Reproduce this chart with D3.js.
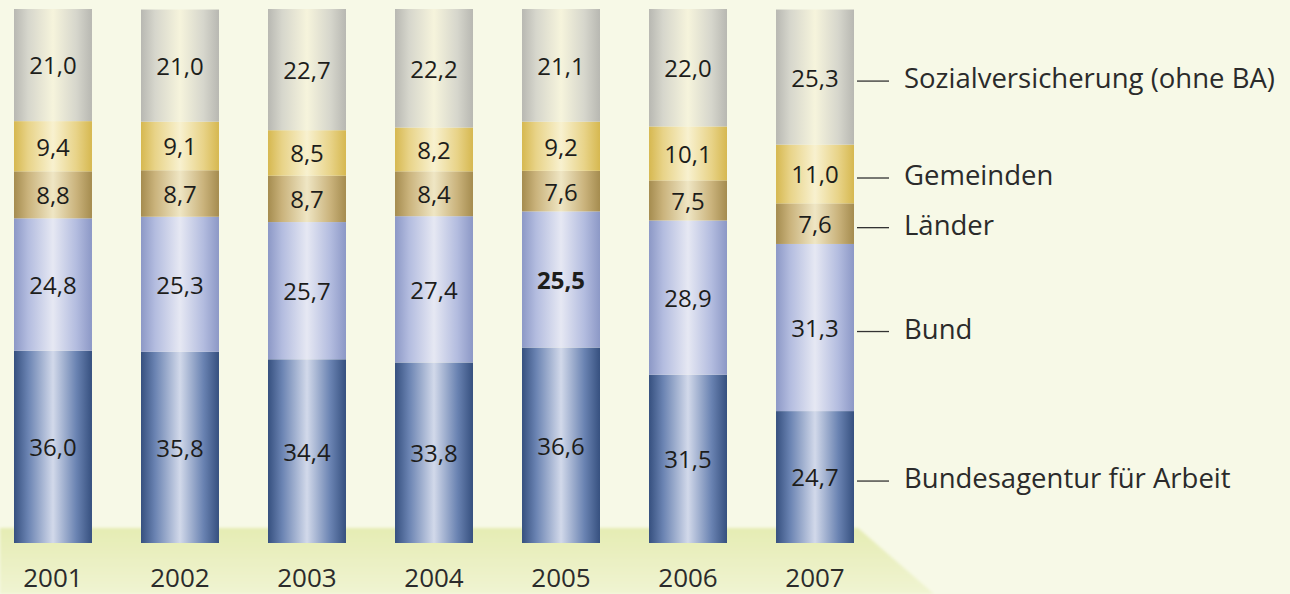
<!DOCTYPE html>
<html>
<head>
<meta charset="utf-8">
<script src="https://cdn.jsdelivr.net/npm/d3@7"></script>
<style>
  html, body { margin: 0; padding: 0; background: #f7f9e7; }
  svg { display: block; }
</style>
</head>
<body>
<div id="chart"></div>
<script>
(function () {
  'use strict';

  // data (shares in %, bottom to top in the stack)
  var years = ['2001', '2002', '2003', '2004', '2005', '2006', '2007'];
  var seriesNames = ['Bundesagentur für Arbeit', 'Bund', 'Länder', 'Gemeinden', 'Sozialversicherung (ohne BA)'];
  var ba = [36.0, 35.8, 34.4, 33.8, 36.6, 31.5, 24.7];
  var bund = [24.8, 25.3, 25.7, 27.4, 25.5, 28.9, 31.3];
  var laender = [8.8, 8.7, 8.7, 8.4, 7.6, 7.5, 7.6];
  var gemeinden = [9.4, 9.1, 8.5, 8.2, 9.2, 10.1, 11.0];
  var sozial = [21.0, 21.0, 22.7, 22.2, 21.1, 22.0, 25.3];
  var boldLabels = [{ year: '2005', series: 'Bund' }];

  var width = 1290, height = 594;
  var keys = ['ba', 'bund', 'laender', 'gemeinden', 'sozial'];
  var rows = years.map(function (y, i) {
    return { year: y, ba: ba[i], bund: bund[i], laender: laender[i], gemeinden: gemeinden[i], sozial: sozial[i] };
  });
  var stack = d3.stack().keys(keys)(rows);

  // cylinder shading: [edge, mid, highlight]
  var shades = {
    ba: ['#36507f', '#6a83b2', '#d2d9ea'],
    bund: ['#8c98c6', '#b3bcdf', '#e6e8f3'],
    laender: ['#a58c4f', '#cab37c', '#efe6c4'],
    gemeinden: ['#d6b850', '#e8d388', '#f8f1cf'],
    sozial: ['#b8b8b2', '#d6d6cc', '#f6f4dc']
  };

  var x = d3.scaleBand().domain(years).range([14, 854]).paddingInner(0.386).paddingOuter(0);
  var y = d3.scaleLinear().domain([0, 100]).range([543, 9]);

  var svg = d3.select('#chart').append('svg').attr('width', width).attr('height', height);
  var defs = svg.append('defs');

  keys.forEach(function (k) {
    var s = shades[k];
    var g = defs.append('linearGradient').attr('id', 'g-' + k).attr('x1', 0).attr('x2', 1).attr('y1', 0).attr('y2', 0);
    [[0, s[0]], [0.18, s[1]], [0.5, s[2]], [0.8, s[1]], [1, s[0]]].forEach(function (st) {
      g.append('stop').attr('offset', st[0]).attr('stop-color', st[1]);
    });
  });

  var floorGrad = defs.append('linearGradient').attr('id', 'floor').attr('x1', 0).attr('x2', 0).attr('y1', 0).attr('y2', 1);
  floorGrad.append('stop').attr('offset', 0).attr('stop-color', '#e5ecb3');
  floorGrad.append('stop').attr('offset', 1).attr('stop-color', '#f0f4d2');
  var blur = defs.append('filter').attr('id', 'soft').attr('x', -0.1).attr('y', -0.1).attr('width', 1.2).attr('height', 1.2);
  blur.append('feGaussianBlur').attr('stdDeviation', 1.5);

  svg.append('rect').attr('width', width).attr('height', height).attr('fill', '#f7f9e7');

  // floor
  var floorRight = x('2007') + x.bandwidth() + 4;
  svg.append('path')
    .attr('d', 'M0,528L' + floorRight + ',528L' + (floorRight + 76) + ',' + height + 'L0,' + height + 'Z')
    .attr('fill', 'url(#floor)')
    .attr('filter', 'url(#soft)');

  // segments
  var layers = svg.append('g').selectAll('g').data(stack).enter().append('g');
  layers.selectAll('rect').data(function (d) { return d.map(function (p) { p.key = d.key; return p; }); })
    .enter().append('rect')
    .attr('x', function (d) { return x(d.data.year); })
    .attr('y', function (d) { return y(d[1]); })
    .attr('width', x.bandwidth())
    .attr('height', function (d) { return y(d[0]) - y(d[1]); })
    .attr('fill', function (d) { return 'url(#g-' + d.key + ')'; });

  var fmt = function (v) { return v.toFixed(1).replace('.', ','); };
  var font = '"Open Sans", "DejaVu Sans", sans-serif';

  layers.selectAll('text').data(function (d) { return d; })
    .enter().append('text')
    .attr('x', function (d) { return x(d.data.year) + x.bandwidth() / 2; })
    .attr('y', function (d) { return (y(d[0]) + y(d[1])) / 2 + 3; })
    .attr('text-anchor', 'middle')
    .attr('dominant-baseline', 'middle')
    .attr('font-family', font)
    .attr('font-size', 24)
    .attr('font-weight', function (d) {
      var name = seriesNames[keys.indexOf(d.key)];
      return boldLabels.some(function (b) { return b.year === d.data.year && b.series === name; }) ? 700 : 400;
    })
    .attr('fill', '#1d1d1b')
    .text(function (d) { return fmt(d[1] - d[0]); });

  // year labels
  svg.append('g').selectAll('text').data(years).enter().append('text')
    .attr('x', function (d) { return x(d) + x.bandwidth() / 2; })
    .attr('y', 587)
    .attr('text-anchor', 'middle')
    .attr('font-family', font)
    .attr('font-size', 26)
    .attr('fill', '#2b2b2b')
    .text(function (d) { return d; });

  // legend attached to last bar
  var last = stack.map(function (s) { return s[s.length - 1]; });
  var lx = x('2007') + x.bandwidth();
  var leg = svg.append('g').selectAll('g').data(last).enter().append('g')
    .attr('transform', function (d) { return 'translate(0,' + ((y(d[0]) + y(d[1])) / 2 + 4) + ')'; });
  leg.append('line').attr('x1', lx + 3).attr('x2', lx + 35).attr('stroke', '#333').attr('stroke-width', 1.3);
  leg.append('text')
    .attr('x', lx + 50)
    .attr('dominant-baseline', 'middle')
    .attr('font-family', font)
    .attr('font-size', 27.5)
    .attr('fill', '#2b2b2b')
    .text(function (d, i) { return seriesNames[i]; });
})();
</script>
</body>
</html>
